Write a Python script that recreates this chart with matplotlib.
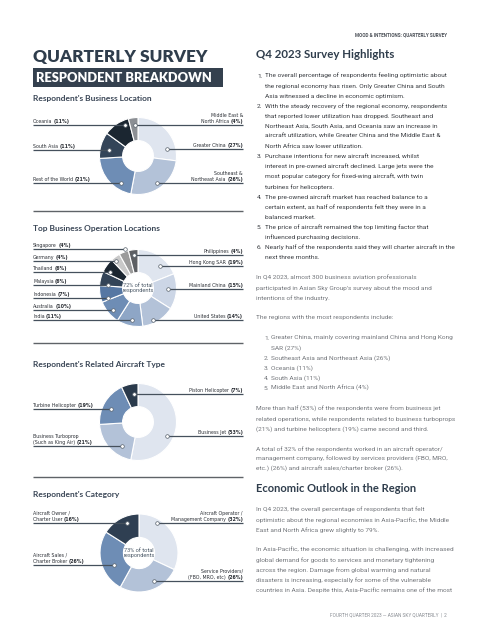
import matplotlib
matplotlib.use('Agg')
import matplotlib.pyplot as plt
from matplotlib.patches import Rectangle

W, H = 480, 640

# ---------------- data ----------------
loc_names = ["Greater China", "Southeast &\nNortheast Asia", "Rest of the World",
             "South Asia", "Oceania", "Middle East &\nNorth Africa"]
loc_values = [27, 26, 21, 11, 11, 4]

ops_names = ["Hong Kong SAR", "Mainland China", "United States", "India", "Australia",
             "Indonesia", "Malaysia", "Thailand", "Germany", "Singapore", "Philippines"]
ops_values = [19, 15, 14, 11, 10, 7, 6, 6, 4, 4, 4]

type_names = ["Business Jet", "Business Turboprop\n(Such as King Air)",
              "Turbine Helicopter", "Piston Helicopter"]
type_values = [53, 21, 19, 7]

cat_names = ["Aircraft Operator /\nManagement Company", "Service Providers/\n(FBO, MRO, etc)",
             "Aircraft Sales /\nCharter Broker", "Aircraft Owner /\nCharter User"]
cat_values = [32, 26, 26, 16]

ops_center = "72% of total\nrespondents"
cat_center = "73% of total\nrespondents"

# ---------------- styles / layout ----------------
C_LT = '#dfe5ef'; C_L = '#ccd6e6'; C_LM = '#b3c2d8'; C_M1 = '#8ea6c6'
C_M = '#6e8db5'; C_M2 = '#5677a3'; C_D = '#334458'; C_DD = '#1b2631'
loc_colors = [C_LT, C_LM, C_M, C_D, C_DD, '#8c8f94']
ops_colors = [C_LT, C_L, C_LM, C_M1, C_M, C_M2, C_D, C_DD, '#c9c9c9', '#9b9b9b', '#5d5f63']
type_colors = [C_LT, C_LM, C_M, '#2a3a4c']
cat_colors = [C_LT, C_LM, C_M, '#2f3f52']

# (side, line y, dot x) per slice, in page pixels
loc_layout = [('R', 149, 167), ('R', 183, 157), ('L', 183, 121),
              ('L', 150, 109), ('L', 125, 125), ('R', 125, 135)]
ops_layout = [('R', 266, 160), ('R', 289, 168), ('R', 320, 153), ('L', 320, 132),
              ('L', 310, 113), ('L', 298, 108), ('L', 285, 108), ('L', 272, 110),
              ('L', 261, 116), ('L', 249, 125), ('R', 255, 134)]
type_layout = [('R', 436, 167), ('L', 446, 122), ('L', 409, 111), ('R', 394, 134)]
cat_layout = [('R', 523, 157), ('R', 581, 154), ('L', 565, 114), ('L', 523, 127)]

DARK = '#2f3d4c'
LINE = '#45505c'
LX0, LX1 = 33, 243

fig = plt.figure(figsize=(4.8, 6.4), dpi=100)
fig.patch.set_facecolor('white')

ax = fig.add_axes([0, 0, 1, 1], zorder=10)
ax.set_xlim(0, W)
ax.set_ylim(H, 0)
ax.axis('off')

LBL = dict(fontsize=3.8, color='#2b2f35', family='DejaVu Sans', stretch='condensed')


def donut(cx, cy, r, values, colors, center=None):
    pad = 1.04
    rr = r * pad
    a = fig.add_axes([(cx - rr) / W, 1 - (cy + rr) / H, 2 * rr / W, 2 * rr / H], zorder=5)
    a.pie(values, colors=colors, startangle=90, counterclock=False, radius=1,
          wedgeprops=dict(width=0.6, edgecolor='white', linewidth=0.8))
    a.set_xlim(-pad, pad)
    a.set_ylim(-pad, pad)
    a.set_aspect('equal')
    a.axis('off')
    if center:
        a.text(0, 0, center, ha='center', va='center', fontsize=4.1,
               color='#4a5866', family='Roboto', linespacing=1.05)


def labels(names, values, layout):
    for name, v, (side, ly, dx) in zip(names, values, layout):
        x0 = LX0 if side == 'L' else LX1
        ax.plot([x0, dx], [ly, ly], color=LINE, lw=0.9, solid_capstyle='butt', zorder=11)
        ax.plot(dx, ly, 'o', ms=2.6, mfc='white', mec='#56606b', mew=0.5, zorder=12)
        parts = name.split('\n')
        ty = ly - 1.2
        if side == 'L':
            t = ax.text(x0, ty, parts[-1], ha='left', va='bottom', **LBL)
            ax.annotate(f'({v}%)', xy=(1, 0), xycoords=t, xytext=(1.0, 0),
                        textcoords='offset points', ha='left', va='bottom',
                        fontweight='bold', **LBL)
        else:
            t = ax.text(x0, ty, f'({v}%)', ha='right', va='bottom', fontweight='bold', **LBL)
            ax.annotate(parts[-1], xy=(0, 0), xycoords=t, xytext=(-1.0, 0),
                        textcoords='offset points', ha='right', va='bottom', **LBL)
        for i, p in enumerate(reversed(parts[:-1])):
            ax.text(x0, ty - (i + 1) * 6.2, p, ha='left' if side == 'L' else 'right',
                    va='bottom', **LBL)


# ---------------- left column ----------------
ax.text(LX0, 62, "QUARTERLY SURVEY", fontsize=12.4, fontweight='heavy', family='Lato',
        color=DARK, ha='left', va='baseline')
ax.add_patch(Rectangle((LX0, 68), 190, 18.5, facecolor='#34404e', edgecolor='none'))
ax.text(LX0 + 3.5, 82, "RESPONDENT BREAKDOWN", fontsize=9.3, fontweight='heavy', family='Lato',
        color='white', ha='left', va='baseline')

sec_titles = ["Respondent's Business Location", "Top Business Operation Locations",
              "Respondent's Related Aircraft Type", "Respondent's Category"]
for s, y in zip(sec_titles, [101.5, 231.5, 366.5, 497.5]):
    ax.text(LX0, y, s, fontsize=6.0, fontweight='bold', family='Lato', color='#3a4656',
            ha='left', va='baseline')

for y in [210.5, 342.5, 477]:
    ax.plot([LX0, LX1], [y, y], color='#5f6368', lw=1.0, solid_capstyle='butt')

donut(138, 156, 38.5, loc_values, loc_colors)
labels(loc_names, loc_values, loc_layout)

donut(138, 288, 38.5, ops_values, ops_colors, ops_center)
labels(ops_names, ops_values, ops_layout)

donut(138, 422, 38.5, type_values, type_colors)
labels(type_names, type_values, type_layout)

donut(139, 553, 39, cat_values, cat_colors, cat_center)
labels(cat_names, cat_values, cat_layout)

# ---------------- right column ----------------
RX = 256
RX1 = 447
ax.text(RX1, 36, "MOOD & INTENTIONS: QUARTERLY SURVEY", fontsize=3.3, fontweight='bold',
        family='Roboto', color='#4a4f56', ha='right', va='baseline')
ax.text(RX, 57.5, "Q4 2023 Survey Highlights", fontsize=8.3, fontweight='bold', family='Lato',
        color=DARK, ha='left', va='baseline')

BODY_D = dict(fontsize=4.65, family='Roboto', color='#3a3d42', va='baseline')
BODY_L = dict(fontsize=4.65, family='Roboto', color='#74777c', va='baseline')

highlights = [
    ["The overall percentage of respondents feeling optimistic about",
     "the regional economy has risen. Only Greater China and South",
     "Asia witnessed a decline in economic optimism."],
    ["With the steady recovery of the regional economy, respondents",
     "that reported lower utilization has dropped. Southeast and",
     "Northeast Asia, South Asia, and Oceania saw an increase in",
     "aircraft utilization, while Greater China and the Middle East &",
     "North Africa saw lower utilization."],
    ["Purchase intentions for new aircraft increased, whilst",
     "interest in pre-owned aircraft declined. Large jets were the",
     "most popular category for fixed-wing aircraft, with twin",
     "turbines for helicopters."],
    ["The pre-owned aircraft market has reached balance to a",
     "certain extent, as half of respondents felt they were in a",
     "balanced market."],
    ["The price of aircraft remained the top limiting factor that",
     "influenced purchasing decisions."],
    ["Nearly half of the respondents said they will charter aircraft in the",
     "next three months."],
]
LS = 10.1
y = 77.5
for i, item in enumerate(highlights):
    ax.text(RX + 1, y, f"{i + 1}.", ha='left', **BODY_D)
    for line in item:
        ax.text(RX + 9, y, line, ha='left', **BODY_D)
        y += LS


def para(lines, y0, x=RX, style=BODY_L):
    yy = y0
    for line in lines:
        ax.text(x, yy, line, ha='left', **style)
        yy += LS


para(["In Q4 2023, almost 300 business aviation professionals",
      "participated in Asian Sky Group's survey about the mood and",
      "intentions of the industry."], 279.5)
para(["The regions with the most respondents include:"], 319.5)

regions = [("1.", "Greater China, mainly covering mainland China and Hong Kong"),
           ("", "SAR (27%)"),
           ("2.", "Southeast Asia and Northeast Asia (26%)"),
           ("3.", "Oceania (11%)"),
           ("4.", "South Asia (11%)"),
           ("5.", "Middle East and North Africa (4%)")]
yy = 339.5
for num, txt in regions:
    if num:
        ax.text(RX + 8, yy, num, ha='left', **BODY_L)
    ax.text(RX + 15, yy, txt, ha='left', **BODY_L)
    yy += LS

para(["More than half (53%) of the respondents were from business jet",
      "related operations, while respondents related to business turboprops",
      "(21%) and turbine helicopters (19%) came second and third."], 410.5)
para(["A total of 32% of the respondents worked in an aircraft operator/",
      "management company, followed by services providers (FBO, MRO,",
      "etc.) (26%) and aircraft sales/charter broker (26%)."], 450.5)

ax.text(RX, 491.5, "Economic Outlook in the Region", fontsize=8.0, fontweight='bold',
        family='Lato', color=DARK, ha='left', va='baseline')

para(["In Q4 2023, the overall percentage of respondents that felt",
      "optimistic about the regional economies in Asia-Pacific, the Middle",
      "East and North Africa grew slightly to 79%."], 511.5)
para(["In Asia-Pacific, the economic situation is challenging, with increased",
      "global demand for goods to services and monetary tightening",
      "across the region. Damage from global warming and natural",
      "disasters is increasing, especially for some of the vulnerable",
      "countries in Asia. Despite this, Asia-Pacific remains one of the most"], 551.5)

ax.text(RX1, 616, "FOURTH QUARTER 2023 \u2014 ASIAN SKY QUARTERLY  |  2", fontsize=3.4,
        family='Roboto', color='#8a8e94', ha='right', va='baseline')

fig.savefig('out.png', dpi=100, facecolor='white')
